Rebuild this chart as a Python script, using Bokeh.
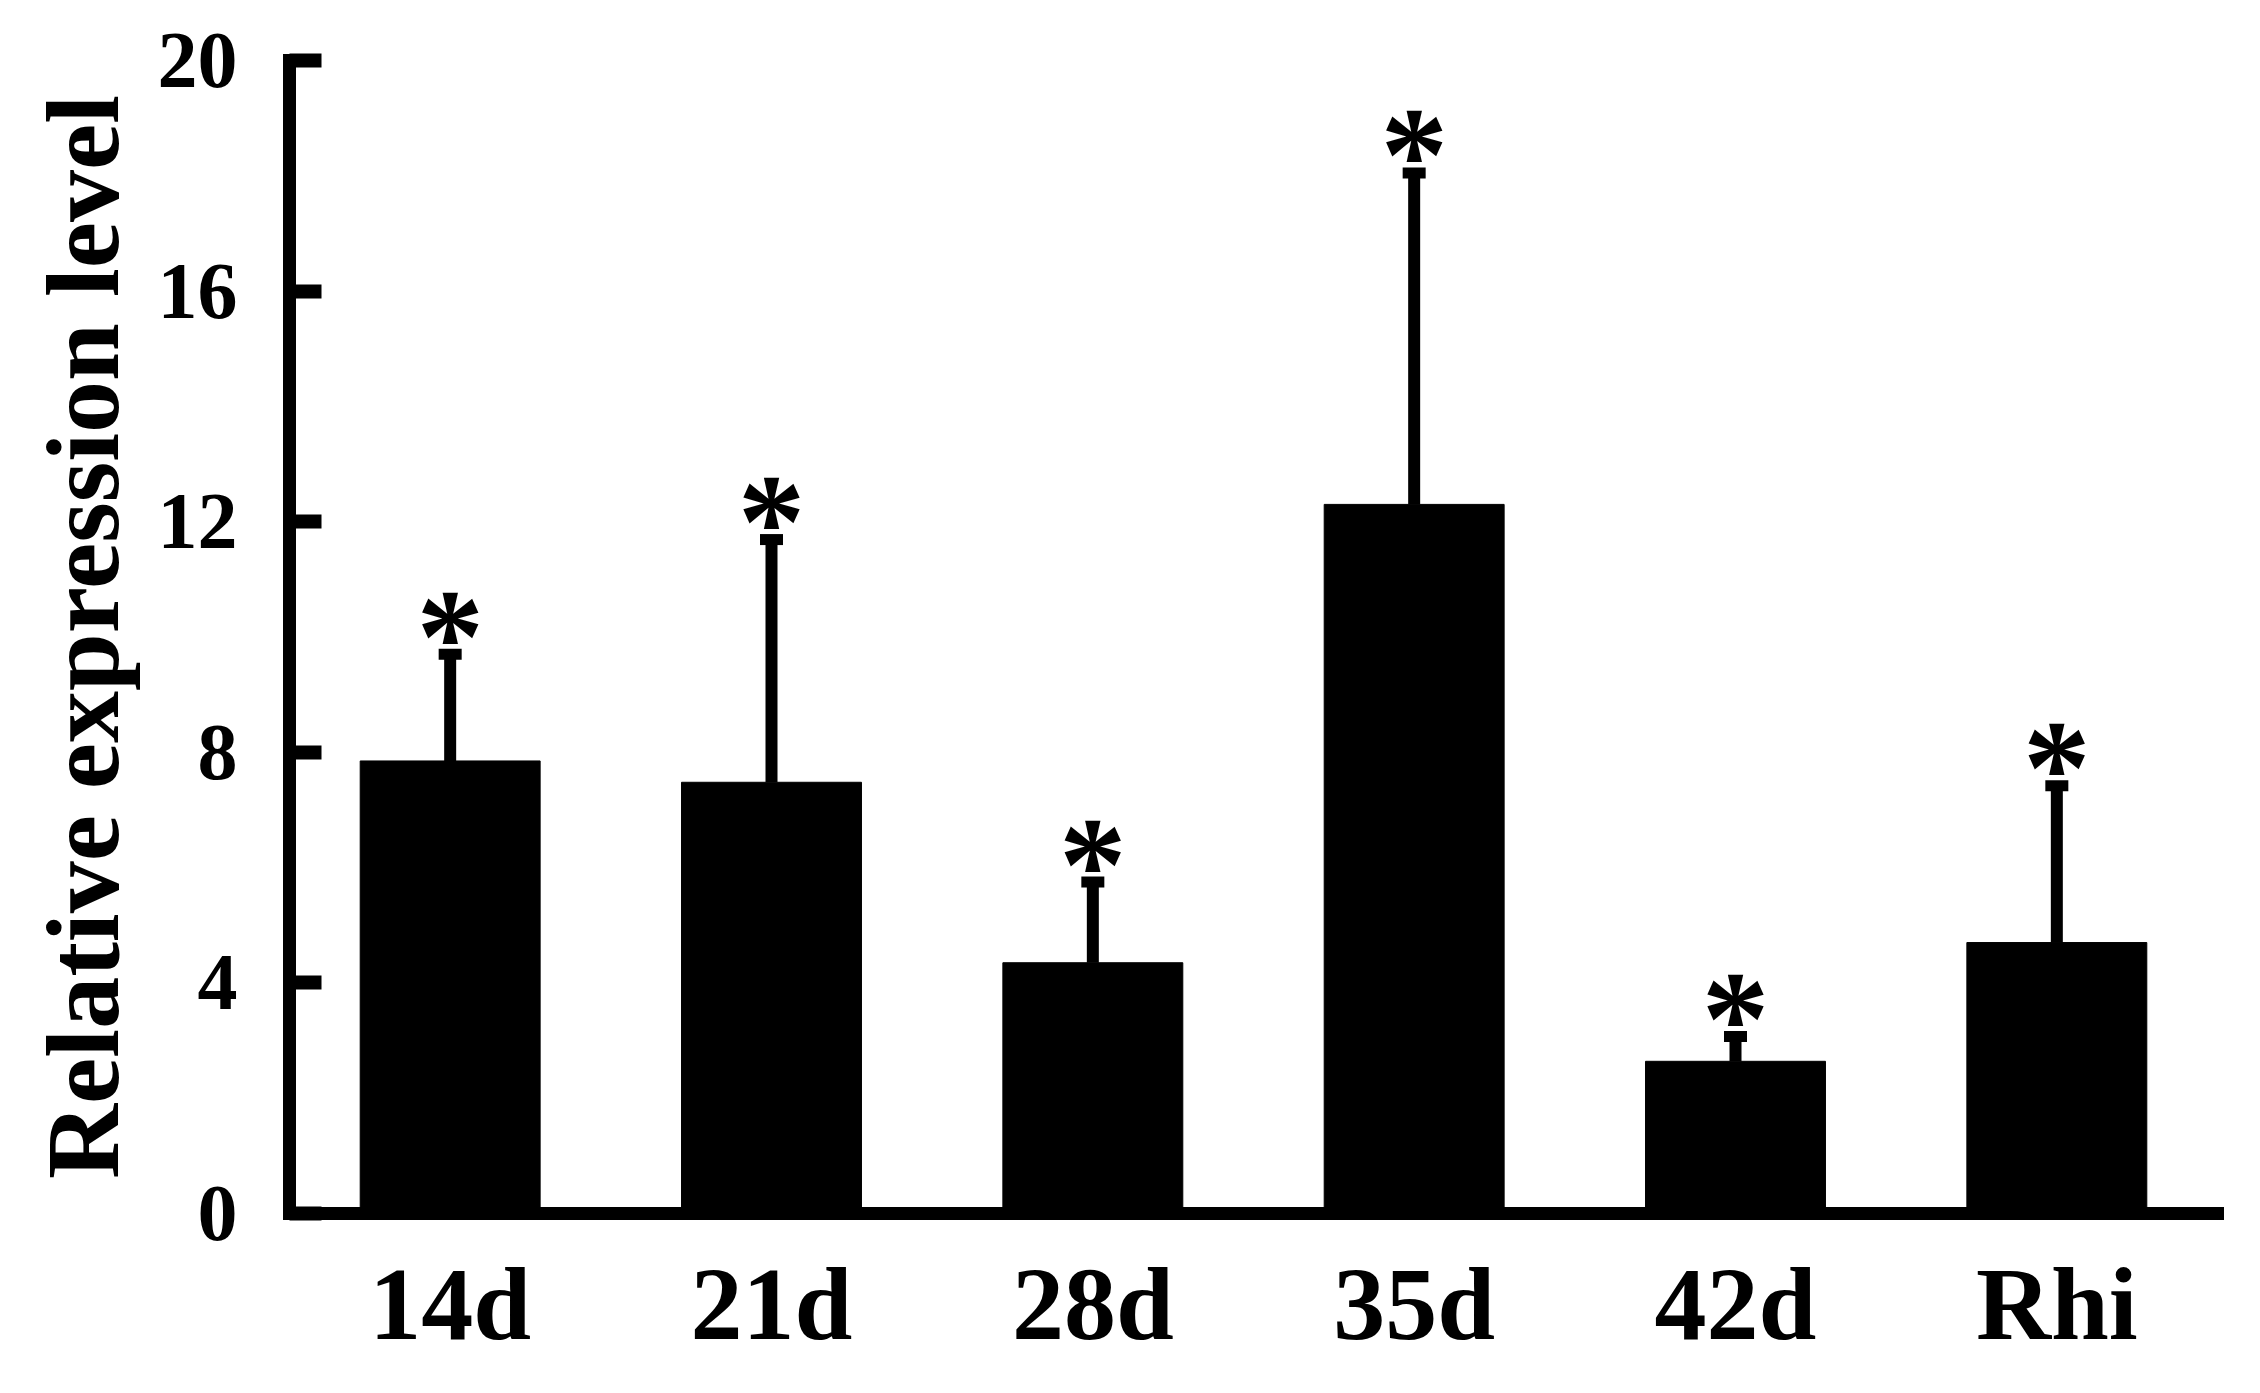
from bokeh.plotting import figure
from bokeh.models import ColumnDataSource, FactorRange, FixedTicker, Whisker, TeeHead
from bokeh.core.properties import value
from bokeh.embed import file_html
from bokeh.resources import INLINE

# relative expression (mean) and standard error
stages = ["14d", "21d", "28d", "35d", "42d", "Rhi"]
means = [7.85, 7.48, 4.35, 12.30, 2.64, 4.70]
errors = [1.85, 4.21, 1.40, 5.75, 0.43, 2.72]
marks = ["*", "*", "*", "*", "*", "*"]
y_ticks = [0, 4, 8, 12, 16, 20]

FONT = "Liberation Serif"

src = ColumnDataSource(data=dict(
    stage=stages,
    mean=means,
    upper=[m + e for m, e in zip(means, errors)],
    mark=marks,
))

p = figure(
    x_range=FactorRange(*stages, range_padding=0),
    y_range=(0, 20),
    width=2244, height=1377,
    output_backend="svg", toolbar_location=None, tools="",
    min_border_left=289, min_border_right=27,
    min_border_top=60, min_border_bottom=164,
)
p.outline_line_color = None
p.xgrid.grid_line_color = None
p.ygrid.grid_line_color = None
p.background_fill_color = "white"

p.vbar(x="stage", top="mean", width=0.56, source=src,
       fill_color="black", line_color="black")

err = Whisker(base="stage", lower="mean", upper="upper", source=src,
              line_color="black", line_width=12, lower_head=None,
              upper_head=TeeHead(size=23, line_width=11, line_color="black"))
p.add_layout(err)

p.text(x="stage", y="upper", text="mark", source=src,
       text_font=value(FONT), text_font_style="bold", text_font_size="135px",
       text_align="center", text_baseline="alphabetic", y_offset=-18,
       text_color="black")

# y axis
p.yaxis.ticker = FixedTicker(ticks=y_ticks)
p.yaxis.axis_label = "Relative expression level"
p.yaxis.axis_label_text_font = FONT
p.yaxis.axis_label_text_font_style = "bold"
p.yaxis.axis_label_text_font_size = "104px"
p.yaxis.axis_label_text_color = "black"
p.yaxis.axis_label_standoff = 15
p.yaxis.major_label_text_font = FONT
p.yaxis.major_label_text_font_style = "bold"
p.yaxis.major_label_text_font_size = "80px"
p.yaxis.major_label_text_color = "black"
p.yaxis.major_label_standoff = 52
p.yaxis.major_tick_in = 32
p.yaxis.major_tick_out = 0
p.yaxis.minor_tick_line_color = None
p.yaxis.major_tick_line_width = 14
p.yaxis.major_tick_line_color = "black"
p.yaxis.axis_line_width = 13
p.yaxis.axis_line_color = "black"
p.yaxis.axis_line_cap = "square"

# x axis
p.xaxis.major_label_text_font = FONT
p.xaxis.major_label_text_font_style = "bold"
p.xaxis.major_label_text_font_size = "104px"
p.xaxis.major_label_text_color = "black"
p.xaxis.major_label_standoff = 32
p.xaxis.major_tick_line_color = None
p.xaxis.major_tick_in = 0
p.xaxis.major_tick_out = 0
p.xaxis.axis_line_width = 13
p.xaxis.axis_line_color = "black"
p.xaxis.axis_line_cap = "square"

open("out.html", "w").write(file_html(p, INLINE))
